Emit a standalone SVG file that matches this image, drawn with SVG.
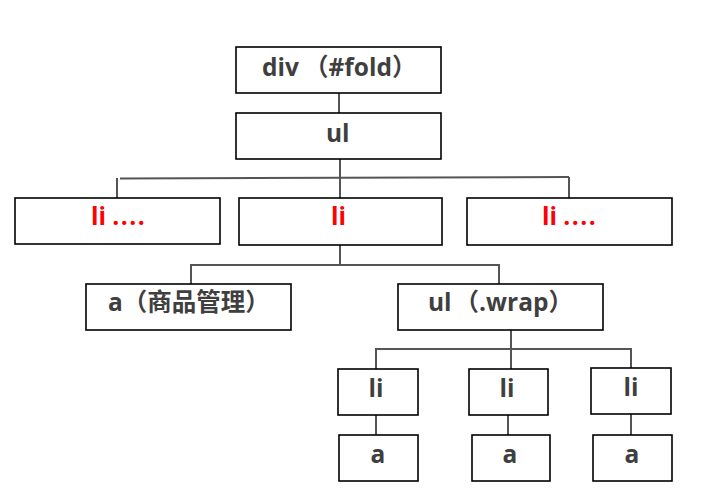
<svg xmlns="http://www.w3.org/2000/svg" width="703" height="492" viewBox="0 0 703 492">
<style>
.box{fill:#fff;stroke:#000;stroke-width:1.6}
.t{font-family:"Open Sans","Noto Sans CJK SC",sans-serif;font-weight:bold;font-size:24.5px;fill:#3f3f3f}
.r{fill:#ff0000}
.m{text-anchor:middle}
.d{letter-spacing:1.5px}
.c{fill:none;stroke:#555;stroke-width:2}
</style>
<rect width="703" height="492" fill="#fff"/>
<g id="connectors">
<path class="c" d="M339,93V113"/>
<path class="c" d="M340,159V198"/>
<path class="c" d="M120,178.5L569,177"/>
<path class="c" d="M117,178V198"/>
<path class="c" d="M569,177V198"/>
<path class="c" d="M340,245V265"/>
<path class="c" d="M191,284V265H499V284"/>
<path class="c" d="M511,330V369"/>
<path class="c" d="M376,369V349H631V368"/>
<path class="c" d="M376,415V435"/>
<path class="c" d="M508,415V435"/>
<path class="c" d="M631,414V435"/>
</g>
<g id="div-fold"><rect class="box" x="236" y="47" width="205" height="46"/><text class="t" x="262" y="76">div<tspan dx="5">（#fold）</tspan></text></g>
<g id="ul-root"><rect class="box" x="236" y="113" width="205" height="46"/><text class="t" x="326" y="142">ul</text></g>
<g id="li-left"><rect class="box" x="15" y="198" width="205" height="46"/><text class="t r" x="91" y="225">li <tspan class="d">....</tspan></text></g>
<g id="li-mid"><rect class="box" x="239" y="198" width="203" height="47"/><text class="t r" x="331" y="225">li</text></g>
<g id="li-right"><rect class="box" x="467" y="198" width="205" height="47"/><text class="t r" x="542" y="225">li <tspan class="d">....</tspan></text></g>
<g id="a-goods"><rect class="box" x="86" y="284" width="205" height="46"/><text class="t" x="108" y="311">a（商品管理）</text></g>
<g id="ul-wrap"><rect class="box" x="398" y="284" width="205" height="46"/><text class="t" x="428" y="311">ul<tspan dx="3">（.wrap）</tspan></text></g>
<g id="li-1"><rect class="box" x="338" y="369" width="80" height="46"/><text class="t m" x="376" y="397">li</text></g>
<g id="li-2"><rect class="box" x="469" y="369" width="79" height="46"/><text class="t m" x="507" y="397">li</text></g>
<g id="li-3"><rect class="box" x="591" y="368" width="80" height="46"/><text class="t m" x="631" y="396">li</text></g>
<g id="a-1"><rect class="box" x="339" y="435" width="79" height="46"/><text class="t m" x="378" y="463">a</text></g>
<g id="a-2"><rect class="box" x="472" y="435" width="78" height="46"/><text class="t m" x="510" y="463">a</text></g>
<g id="a-3"><rect class="box" x="593" y="435" width="79" height="46"/><text class="t m" x="632" y="463">a</text></g>
</svg>
